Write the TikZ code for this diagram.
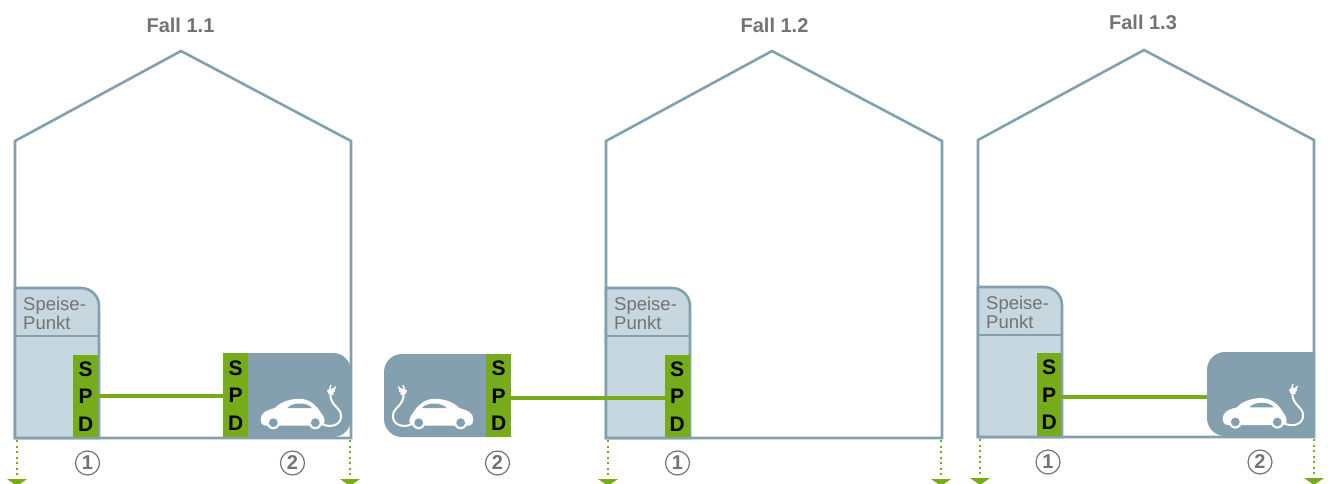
\documentclass[tikz,border=0pt]{standalone}
\usepackage{fontspec}
\setmainfont{Liberation Sans}
\definecolor{wallc}{HTML}{84A0AE}
\definecolor{roomc}{HTML}{C6D7E0}
\definecolor{greenc}{HTML}{76AB1A}
\definecolor{textc}{HTML}{737373}
\tikzset{
  wall/.style={draw=wallc,line width=2.6pt,line join=miter},
  room/.style={draw=wallc,fill=roomc,line width=2.6pt},
  spdbox/.style={fill=greenc,inner sep=0pt,minimum width=25pt,align=center,text=black,anchor=north west,font=\fontsize{21}{27.5}\selectfont\bfseries},
  link/.style={draw=greenc,line width=4pt},
  earth/.style={draw=greenc,line width=2.4pt,dash pattern=on 2.4pt off 3.1pt},
  tip/.style={fill=greenc},
  title/.style={text=textc,font=\fontsize{20}{22}\selectfont\bfseries},
  num/.style={circle,draw=textc,line width=1.2pt,minimum size=24pt,inner sep=0pt,text=textc,font=\fontsize{20}{22}\selectfont\bfseries},
  speise/.style={text=textc,align=left,anchor=north west,inner sep=0pt,font=\fontsize{18.5}{19}\selectfont},
  pics/car/.style={code={
    \fill[white] (6,27.7) .. controls (2,27.5) and (0.5,24.5) .. (0.7,21)
      .. controls (1,15.5) and (5,12.5) .. (15,10)
      .. controls (19,5) and (29,0.6) .. (40,0.8)
      .. controls (50,1) and (57,8) .. (61,15)
      .. controls (64,18) and (65.5,23) .. (64,25.5)
      .. controls (63.5,27) and (62.5,27.7) .. (61,27.7) -- cycle;
    \fill[wallc] (27.5,10) .. controls (31,5) and (46,3) .. (52,10) -- cycle;
    \fill[white] (13.3,24.7) circle (6.6);
    \fill[white] (55.3,24.7) circle (6.6);
    \fill[wallc] (13.3,24.7) circle (4.4);
    \fill[wallc] (55.3,24.7) circle (4.4);
    \draw[white,line width=2pt] (63,26.5) .. controls (71,30) and (82,27) .. (81,17)
      .. controls (80.3,9) and (70,8) .. (70.3,-5);
    \fill[white,rotate around={20:(71,-7)}] (67.5,-9) rectangle (74.5,-5) (69.5,-5) rectangle (72.5,-3);
    \draw[white,line width=1.4pt] (69.3,-8) -- (71,-13) (73.5,-7) -- (75.5,-11.5);
  }}
}
\begin{document}
\begin{tikzpicture}[x=1pt,y=-1pt]
\useasboundingbox (0,0) rectangle (1328,484);
% ---- Fall 1.1
\node[title] (t1) at (180.5,25) {Fall 1.1};
\draw[wall] (15,438) -- (15,141) -- (181,51) -- (351,141) -- (351,438) -- cycle;
\draw[room] (15,438) -- (15,288) -- (81,288) arc[start angle=-90,end angle=0,radius=18] -- (99,438) -- cycle;
\draw[wall] (15,336) -- (99,336);
\node[speise] (s1) at (23,296.5) {Speise-\\Punkt};
\node[spdbox,minimum height=82pt] (a1) at (73,355) {S\\P\\D};
\fill[wallc] (240,353) -- (333,353) arc[start angle=-90,end angle=0,radius=18] -- (351,419) arc[start angle=0,end angle=90,radius=18] -- (240,437) -- cycle;
\node[spdbox,minimum height=84pt] (b1) at (223,353) {S\\P\\D};
\draw[link] (a1.east |- 0,396) -- (b1.west |- 0,396);
\pic at (260,398) {car};
\coordinate (g1a) at (17,440); \coordinate (g1b) at (17,477);
\coordinate (g1c) at (350,440); \coordinate (g1d) at (350,477);
\draw[earth] (g1a) -- (g1b); \draw[earth] (g1c) -- (g1d);
\fill[tip] (7,479) -- (27,479) -- (17,486) -- cycle;
\fill[tip] (340,479) -- (360,479) -- (350,486) -- cycle;
\node[num] (n1) at (87.5,463) {1};
\node[num] (n2) at (292.5,463) {2};
% ---- Fall 1.2
\node[title] (t2) at (774.5,25) {Fall 1.2};
\draw[wall] (606,438) -- (606,141) -- (772,51) -- (942,141) -- (942,438) -- cycle;
\draw[room] (606,438) -- (606,288) -- (672,288) arc[start angle=-90,end angle=0,radius=18] -- (690,438) -- cycle;
\draw[wall] (606,336) -- (690,336);
\node[speise] (s2) at (614,296.5) {Speise-\\Punkt};
\node[spdbox,minimum height=82pt] (a2) at (664.5,355) {S\\P\\D};
\fill[wallc] (494,354) -- (402,354) arc[start angle=270,end angle=180,radius=18] -- (384,419) arc[start angle=180,end angle=90,radius=18] -- (494,437) -- cycle;
\node[spdbox,minimum height=83pt] (b2) at (486,354) {S\\P\\D};
\draw[link] (b2.east |- 0,397.5) -- (a2.west |- 0,397.5);
\pic[xscale=-1] at (474,398) {car};
\coordinate (g2a) at (608,440); \coordinate (g2b) at (608,477);
\coordinate (g2c) at (941,440); \coordinate (g2d) at (941,477);
\draw[earth] (g2a) -- (g2b); \draw[earth] (g2c) -- (g2d);
\fill[tip] (598,479) -- (618,479) -- (608,486) -- cycle;
\fill[tip] (931,479) -- (951,479) -- (941,486) -- cycle;
\node[num] (n3) at (497.5,463) {2};
\node[num] (n4) at (677.5,463) {1};
% ---- Fall 1.3
\node[title] (t3) at (1143,22) {Fall 1.3};
\draw[wall] (978,437) -- (978,140) -- (1144,50) -- (1314,140) -- (1314,437) -- cycle;
\draw[room] (978,437) -- (978,287) -- (1044,287) arc[start angle=-90,end angle=0,radius=18] -- (1062,437) -- cycle;
\draw[wall] (978,335) -- (1062,335);
\node[speise] (s3) at (986,295.5) {Speise-\\Punkt};
\node[spdbox,minimum height=83pt,minimum width=24pt] (a3) at (1037,353) {S\\P\\D};
\node[inner sep=0pt,minimum width=108pt,minimum height=84pt,anchor=north west] (c3) at (1207,352) {};
\fill[wallc] (1315,352) -- (1225,352) arc[start angle=270,end angle=180,radius=18] -- (1207,418) arc[start angle=180,end angle=90,radius=18] -- (1315,436) -- cycle;
\draw[link] (a3.east |- 0,397) -- (c3.west |- 0,397);
\pic at (1222,397.3) {car};
\coordinate (g3a) at (980,439); \coordinate (g3b) at (980,476);
\coordinate (g3c) at (1314,439); \coordinate (g3d) at (1314,476);
\draw[earth] (g3a) -- (g3b); \draw[earth] (g3c) -- (g3d);
\fill[tip] (970,478) -- (990,478) -- (980,485) -- cycle;
\fill[tip] (1304,478) -- (1324,478) -- (1314,485) -- cycle;
\node[num] (n5) at (1048,462) {1};
\node[num] (n6) at (1260,462) {2};
\end{tikzpicture}
\end{document}
